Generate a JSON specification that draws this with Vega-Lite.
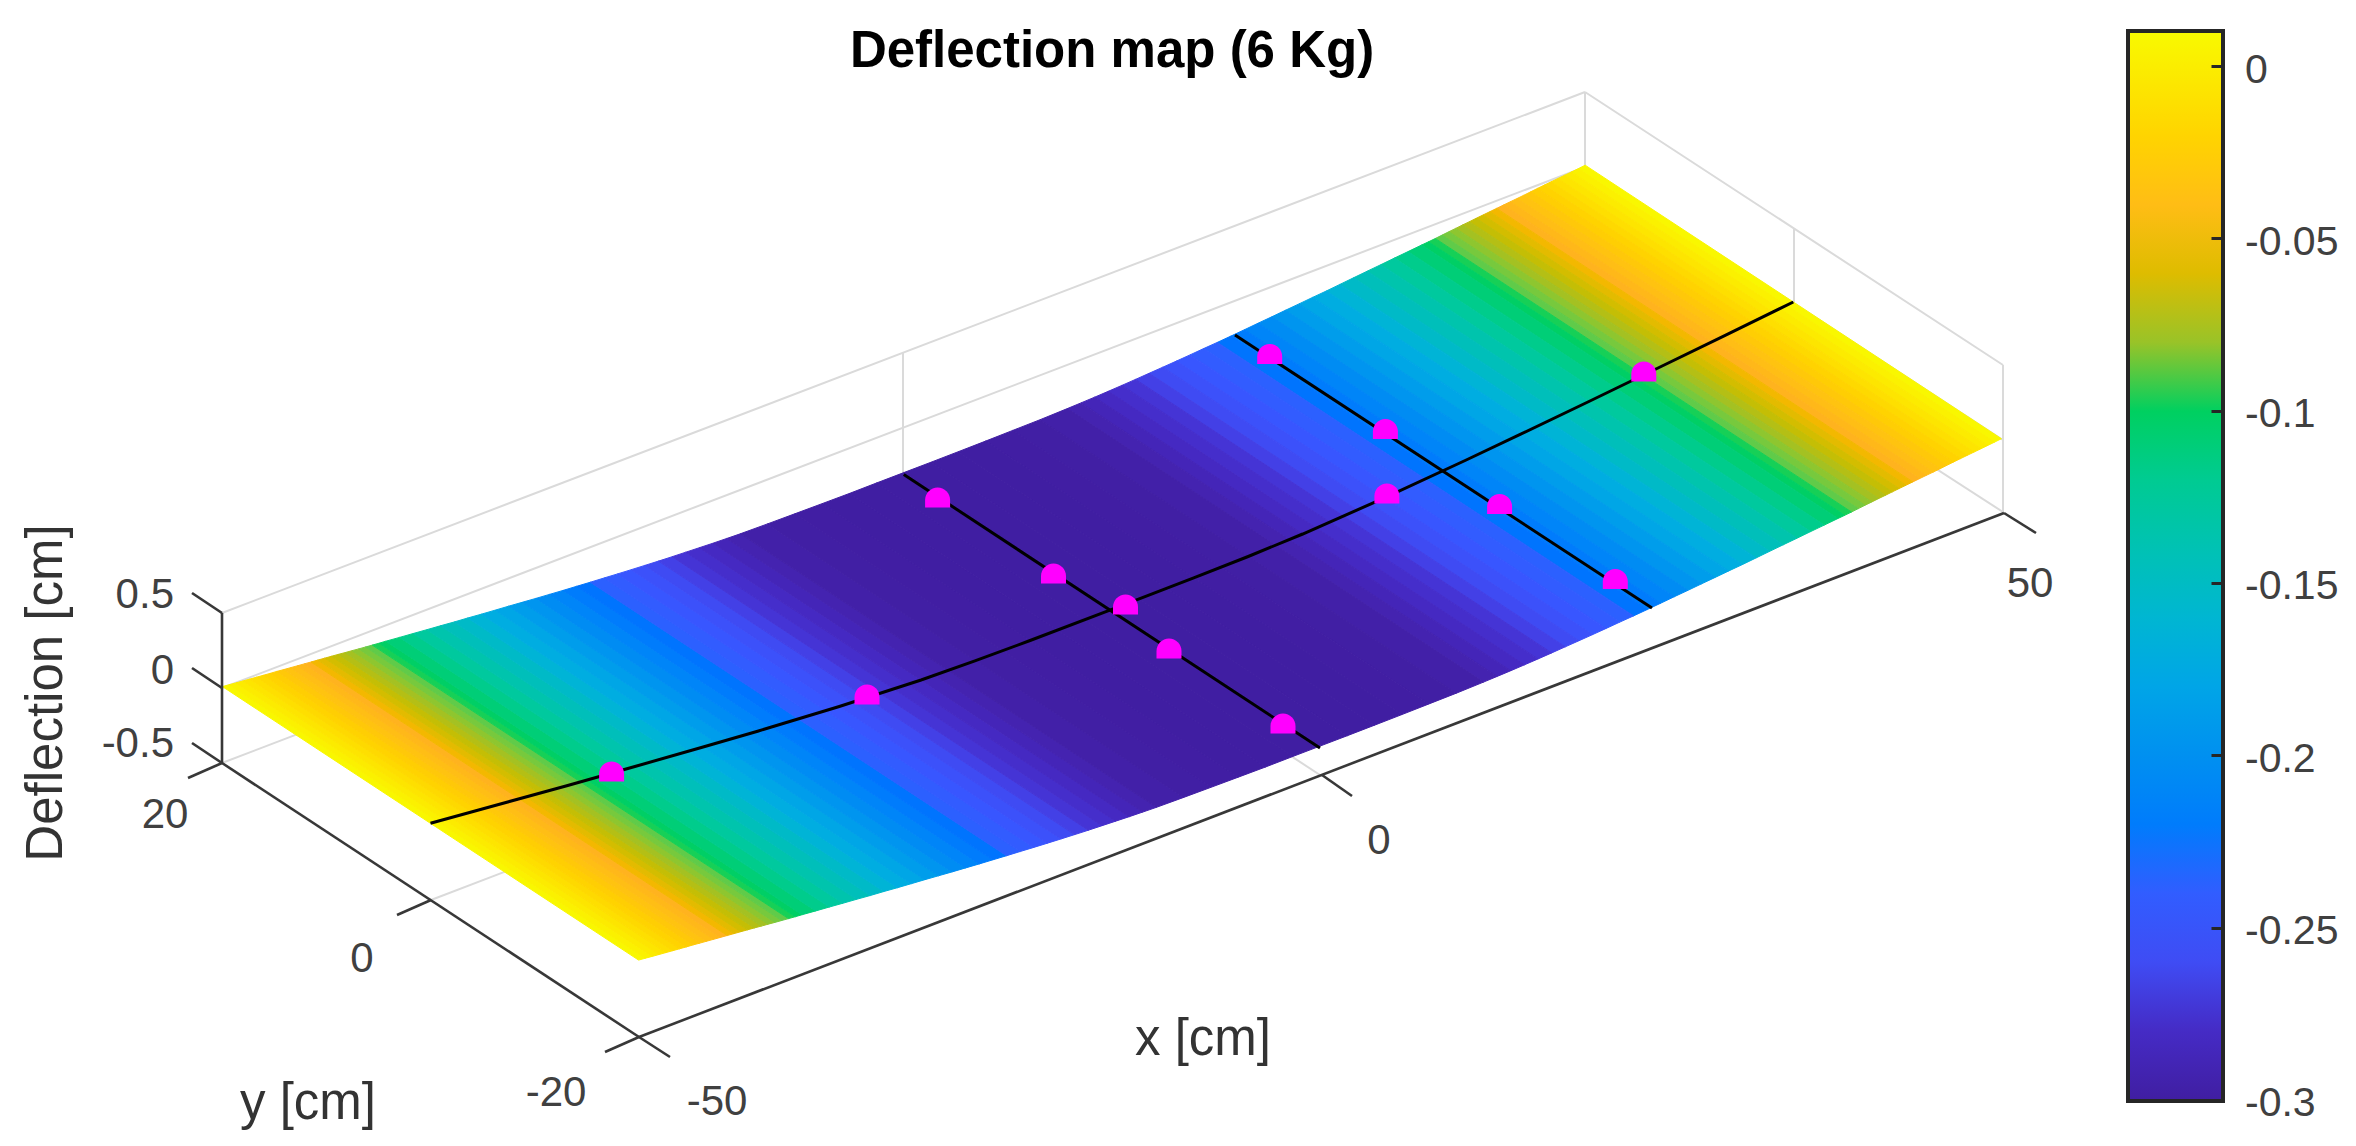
{"$schema":"https://vega.github.io/schema/vega-lite/v6.json","width":2356,"height":1146,"padding":0,"autosize":"none","background":"white",
"title":{"text":"Deflection map (6 Kg)","font":"Liberation Sans","fontSize":51,"fontWeight":"bold","color":"#000000","anchor":"middle","frame":"group","dx":-66,"dy":82},
"resolve":{"scale":{"y":"independent"}},
"layer":[
{"data":{"values":[
{"sx":222,"sy":763,"sx2":1585,"sy2":242},{"sx":431,"sy":900,"sx2":1794,"sy2":379},{"sx":903,"sy":502,"sx2":1320,"sy2":775},{"sx":1585,"sy":242,"sx2":2003,"sy2":512},
{"sx":222,"sy":688,"sx2":1585,"sy2":167},{"sx":222,"sy":613,"sx2":1585,"sy2":92},{"sx":1585,"sy":92,"sx2":2003,"sy2":365},{"sx":1585,"sy":167,"sx2":2003,"sy2":440},
{"sx":903,"sy":352,"sx2":903,"sy2":502},{"sx":1585,"sy":92,"sx2":1585,"sy2":242},{"sx":1794,"sy":228,"sx2":1794,"sy2":378},{"sx":2003,"sy":365,"sx2":2003,"sy2":512}]},
"mark":{"type":"rule","color":"#DADADA","strokeWidth":2},
"encoding":{"x":{"field":"sx","type":"quantitative","scale":{"domain":[0,2356],"range":[0,2356]},"axis":null},"y":{"field":"sy","type":"quantitative","scale":{"domain":[0,1146],"range":[0,1146]},"axis":null},"x2":{"field":"sx2"},"y2":{"field":"sy2"}}},
{"data":{"values":{"type":"FeatureCollection","features":[
{"type":"Feature","properties":{"z":0.008},"geometry":{"type":"Polygon","coordinates":[[[222.4,686.6],[229.2,684.7],[645.4,958.2],[638.6,960.1],[222.4,686.6]]]}},
{"type":"Feature","properties":{"z":0.0033},"geometry":{"type":"Polygon","coordinates":[[[229.2,684.7],[236.0,682.9],[652.2,956.4],[645.4,958.2],[229.2,684.7]]]}},
{"type":"Feature","properties":{"z":-0.0015},"geometry":{"type":"Polygon","coordinates":[[[236.0,682.9],[242.8,681.0],[659.0,954.5],[652.2,956.4],[236.0,682.9]]]}},
{"type":"Feature","properties":{"z":-0.0062},"geometry":{"type":"Polygon","coordinates":[[[242.8,681.0],[249.7,679.1],[665.9,952.6],[659.0,954.5],[242.8,681.0]]]}},
{"type":"Feature","properties":{"z":-0.0109},"geometry":{"type":"Polygon","coordinates":[[[249.7,679.1],[256.5,677.2],[672.7,950.7],[665.9,952.6],[249.7,679.1]]]}},
{"type":"Feature","properties":{"z":-0.0157},"geometry":{"type":"Polygon","coordinates":[[[256.5,677.2],[263.3,675.3],[679.5,948.8],[672.7,950.7],[256.5,677.2]]]}},
{"type":"Feature","properties":{"z":-0.0204},"geometry":{"type":"Polygon","coordinates":[[[263.3,675.3],[270.1,673.4],[686.3,946.9],[679.5,948.8],[263.3,675.3]]]}},
{"type":"Feature","properties":{"z":-0.0252},"geometry":{"type":"Polygon","coordinates":[[[270.1,673.4],[276.9,671.4],[693.1,944.9],[686.3,946.9],[270.1,673.4]]]}},
{"type":"Feature","properties":{"z":-0.0299},"geometry":{"type":"Polygon","coordinates":[[[276.9,671.4],[283.7,669.6],[699.9,943.1],[693.1,944.9],[276.9,671.4]]]}},
{"type":"Feature","properties":{"z":-0.0347},"geometry":{"type":"Polygon","coordinates":[[[283.7,669.6],[290.5,667.7],[706.7,941.2],[699.9,943.1],[283.7,669.6]]]}},
{"type":"Feature","properties":{"z":-0.0394},"geometry":{"type":"Polygon","coordinates":[[[290.5,667.7],[297.4,665.8],[713.6,939.3],[706.7,941.2],[290.5,667.7]]]}},
{"type":"Feature","properties":{"z":-0.0442},"geometry":{"type":"Polygon","coordinates":[[[297.4,665.8],[304.2,663.9],[720.4,937.4],[713.6,939.3],[297.4,665.8]]]}},
{"type":"Feature","properties":{"z":-0.0489},"geometry":{"type":"Polygon","coordinates":[[[304.2,663.9],[311.0,662.0],[727.2,935.5],[720.4,937.4],[304.2,663.9]]]}},
{"type":"Feature","properties":{"z":-0.0537},"geometry":{"type":"Polygon","coordinates":[[[311.0,662.0],[317.8,660.1],[734.0,933.6],[727.2,935.5],[311.0,662.0]]]}},
{"type":"Feature","properties":{"z":-0.0584},"geometry":{"type":"Polygon","coordinates":[[[317.8,660.1],[324.6,658.2],[740.8,931.7],[734.0,933.6],[317.8,660.1]]]}},
{"type":"Feature","properties":{"z":-0.0632},"geometry":{"type":"Polygon","coordinates":[[[324.6,658.2],[331.4,656.3],[747.6,929.8],[740.8,931.7],[324.6,658.2]]]}},
{"type":"Feature","properties":{"z":-0.0679},"geometry":{"type":"Polygon","coordinates":[[[331.4,656.3],[338.2,654.4],[754.4,927.9],[747.6,929.8],[331.4,656.3]]]}},
{"type":"Feature","properties":{"z":-0.0727},"geometry":{"type":"Polygon","coordinates":[[[338.2,654.4],[345.1,652.6],[761.3,926.1],[754.4,927.9],[338.2,654.4]]]}},
{"type":"Feature","properties":{"z":-0.0775},"geometry":{"type":"Polygon","coordinates":[[[345.1,652.6],[351.9,650.7],[768.1,924.2],[761.3,926.1],[345.1,652.6]]]}},
{"type":"Feature","properties":{"z":-0.0825},"geometry":{"type":"Polygon","coordinates":[[[351.9,650.7],[358.7,648.9],[774.9,922.4],[768.1,924.2],[351.9,650.7]]]}},
{"type":"Feature","properties":{"z":-0.0875},"geometry":{"type":"Polygon","coordinates":[[[358.7,648.9],[365.5,647.0],[781.7,920.5],[774.9,922.4],[358.7,648.9]]]}},
{"type":"Feature","properties":{"z":-0.0925},"geometry":{"type":"Polygon","coordinates":[[[365.5,647.0],[372.3,645.1],[788.5,918.6],[781.7,920.5],[365.5,647.0]]]}},
{"type":"Feature","properties":{"z":-0.0973},"geometry":{"type":"Polygon","coordinates":[[[372.3,645.1],[379.1,643.2],[795.3,916.7],[788.5,918.6],[372.3,645.1]]]}},
{"type":"Feature","properties":{"z":-0.1018},"geometry":{"type":"Polygon","coordinates":[[[379.1,643.2],[385.9,641.2],[802.1,914.7],[795.3,916.7],[379.1,643.2]]]}},
{"type":"Feature","properties":{"z":-0.1085},"geometry":{"type":"Polygon","coordinates":[[[385.9,641.2],[399.6,637.4],[815.8,910.9],[802.1,914.7],[385.9,641.2]]]}},
{"type":"Feature","properties":{"z":-0.1175},"geometry":{"type":"Polygon","coordinates":[[[399.6,637.4],[413.2,633.5],[829.4,907.0],[815.8,910.9],[399.6,637.4]]]}},
{"type":"Feature","properties":{"z":-0.1265},"geometry":{"type":"Polygon","coordinates":[[[413.2,633.5],[426.8,629.7],[843.0,903.2],[829.4,907.0],[413.2,633.5]]]}},
{"type":"Feature","properties":{"z":-0.1355},"geometry":{"type":"Polygon","coordinates":[[[426.8,629.7],[440.4,625.8],[856.6,899.3],[843.0,903.2],[426.8,629.7]]]}},
{"type":"Feature","properties":{"z":-0.1445},"geometry":{"type":"Polygon","coordinates":[[[440.4,625.8],[454.1,622.0],[870.3,895.5],[856.6,899.3],[440.4,625.8]]]}},
{"type":"Feature","properties":{"z":-0.1535},"geometry":{"type":"Polygon","coordinates":[[[454.1,622.0],[467.7,618.0],[883.9,891.5],[870.3,895.5],[454.1,622.0]]]}},
{"type":"Feature","properties":{"z":-0.1625},"geometry":{"type":"Polygon","coordinates":[[[467.7,618.0],[481.3,614.2],[897.5,887.7],[883.9,891.5],[467.7,618.0]]]}},
{"type":"Feature","properties":{"z":-0.171},"geometry":{"type":"Polygon","coordinates":[[[481.3,614.2],[495.0,610.2],[911.2,883.7],[897.5,887.7],[481.3,614.2]]]}},
{"type":"Feature","properties":{"z":-0.1793},"geometry":{"type":"Polygon","coordinates":[[[495.0,610.2],[508.6,606.2],[924.8,879.7],[911.2,883.7],[495.0,610.2]]]}},
{"type":"Feature","properties":{"z":-0.1878},"geometry":{"type":"Polygon","coordinates":[[[508.6,606.2],[522.2,602.3],[938.4,875.8],[924.8,879.7],[508.6,606.2]]]}},
{"type":"Feature","properties":{"z":-0.196},"geometry":{"type":"Polygon","coordinates":[[[522.2,602.3],[535.9,598.4],[952.1,871.9],[938.4,875.8],[522.2,602.3]]]}},
{"type":"Feature","properties":{"z":-0.204},"geometry":{"type":"Polygon","coordinates":[[[535.9,598.4],[549.5,594.4],[965.7,867.9],[952.1,871.9],[535.9,598.4]]]}},
{"type":"Feature","properties":{"z":-0.212},"geometry":{"type":"Polygon","coordinates":[[[549.5,594.4],[563.1,590.4],[979.3,863.9],[965.7,867.9],[549.5,594.4]]]}},
{"type":"Feature","properties":{"z":-0.22},"geometry":{"type":"Polygon","coordinates":[[[563.1,590.4],[576.7,586.3],[992.9,859.8],[979.3,863.9],[563.1,590.4]]]}},
{"type":"Feature","properties":{"z":-0.2275},"geometry":{"type":"Polygon","coordinates":[[[576.7,586.3],[590.4,582.2],[1006.6,855.7],[992.9,859.8],[576.7,586.3]]]}},
{"type":"Feature","properties":{"z":-0.2345},"geometry":{"type":"Polygon","coordinates":[[[590.4,582.2],[604.0,578.0],[1020.2,851.5],[1006.6,855.7],[590.4,582.2]]]}},
{"type":"Feature","properties":{"z":-0.2415},"geometry":{"type":"Polygon","coordinates":[[[604.0,578.0],[617.6,573.9],[1033.8,847.4],[1020.2,851.5],[604.0,578.0]]]}},
{"type":"Feature","properties":{"z":-0.2485},"geometry":{"type":"Polygon","coordinates":[[[617.6,573.9],[631.2,569.7],[1047.4,843.2],[1033.8,847.4],[617.6,573.9]]]}},
{"type":"Feature","properties":{"z":-0.255},"geometry":{"type":"Polygon","coordinates":[[[631.2,569.7],[644.9,565.4],[1061.1,838.9],[1047.4,843.2],[631.2,569.7]]]}},
{"type":"Feature","properties":{"z":-0.261},"geometry":{"type":"Polygon","coordinates":[[[644.9,565.4],[658.5,561.1],[1074.7,834.6],[1061.1,838.9],[644.9,565.4]]]}},
{"type":"Feature","properties":{"z":-0.2668},"geometry":{"type":"Polygon","coordinates":[[[658.5,561.1],[672.2,556.7],[1088.4,830.2],[1074.7,834.6],[658.5,561.1]]]}},
{"type":"Feature","properties":{"z":-0.2723},"geometry":{"type":"Polygon","coordinates":[[[672.2,556.7],[685.8,552.2],[1102.0,825.7],[1088.4,830.2],[672.2,556.7]]]}},
{"type":"Feature","properties":{"z":-0.2773},"geometry":{"type":"Polygon","coordinates":[[[685.8,552.2],[699.4,547.7],[1115.6,821.2],[1102.0,825.7],[685.8,552.2]]]}},
{"type":"Feature","properties":{"z":-0.2818},"geometry":{"type":"Polygon","coordinates":[[[699.4,547.7],[713.0,543.2],[1129.2,816.7],[1115.6,821.2],[699.4,547.7]]]}},
{"type":"Feature","properties":{"z":-0.2858},"geometry":{"type":"Polygon","coordinates":[[[713.0,543.2],[726.7,538.5],[1142.9,812.0],[1129.2,816.7],[713.0,543.2]]]}},
{"type":"Feature","properties":{"z":-0.2893},"geometry":{"type":"Polygon","coordinates":[[[726.7,538.5],[740.3,533.8],[1156.5,807.3],[1142.9,812.0],[726.7,538.5]]]}},
{"type":"Feature","properties":{"z":-0.293},"geometry":{"type":"Polygon","coordinates":[[[740.3,533.8],[767.5,523.9],[1183.7,797.4],[1156.5,807.3],[740.3,533.8]]]}},
{"type":"Feature","properties":{"z":-0.296},"geometry":{"type":"Polygon","coordinates":[[[767.5,523.9],[794.8,513.8],[1211.0,787.3],[1183.7,797.4],[767.5,523.9]]]}},
{"type":"Feature","properties":{"z":-0.298},"geometry":{"type":"Polygon","coordinates":[[[794.8,513.8],[822.0,503.7],[1238.2,777.2],[1211.0,787.3],[794.8,513.8]]]}},
{"type":"Feature","properties":{"z":-0.2995},"geometry":{"type":"Polygon","coordinates":[[[822.0,503.7],[849.3,493.5],[1265.5,767.0],[1238.2,777.2],[822.0,503.7]]]}},
{"type":"Feature","properties":{"z":-0.3},"geometry":{"type":"Polygon","coordinates":[[[849.3,493.5],[876.5,483.0],[1292.7,756.5],[1265.5,767.0],[849.3,493.5]]]}},
{"type":"Feature","properties":{"z":-0.3},"geometry":{"type":"Polygon","coordinates":[[[876.5,483.0],[903.8,472.6],[1320.0,746.1],[1292.7,756.5],[876.5,483.0]]]}},
{"type":"Feature","properties":{"z":0.008},"geometry":{"type":"Polygon","coordinates":[[[1585.2,165.2],[1578.4,168.6],[1994.6,442.1],[2001.4,438.7],[1585.2,165.2]]]}},
{"type":"Feature","properties":{"z":0.0033},"geometry":{"type":"Polygon","coordinates":[[[1578.4,168.6],[1571.6,171.9],[1987.8,445.4],[1994.6,442.1],[1578.4,168.6]]]}},
{"type":"Feature","properties":{"z":-0.0015},"geometry":{"type":"Polygon","coordinates":[[[1571.6,171.9],[1564.8,175.2],[1981.0,448.7],[1987.8,445.4],[1571.6,171.9]]]}},
{"type":"Feature","properties":{"z":-0.0062},"geometry":{"type":"Polygon","coordinates":[[[1564.8,175.2],[1557.9,178.5],[1974.1,452.0],[1981.0,448.7],[1564.8,175.2]]]}},
{"type":"Feature","properties":{"z":-0.0109},"geometry":{"type":"Polygon","coordinates":[[[1557.9,178.5],[1551.1,181.8],[1967.3,455.3],[1974.1,452.0],[1557.9,178.5]]]}},
{"type":"Feature","properties":{"z":-0.0157},"geometry":{"type":"Polygon","coordinates":[[[1551.1,181.8],[1544.3,185.1],[1960.5,458.6],[1967.3,455.3],[1551.1,181.8]]]}},
{"type":"Feature","properties":{"z":-0.0204},"geometry":{"type":"Polygon","coordinates":[[[1544.3,185.1],[1537.5,188.4],[1953.7,461.9],[1960.5,458.6],[1544.3,185.1]]]}},
{"type":"Feature","properties":{"z":-0.0252},"geometry":{"type":"Polygon","coordinates":[[[1537.5,188.4],[1530.7,191.8],[1946.9,465.3],[1953.7,461.9],[1537.5,188.4]]]}},
{"type":"Feature","properties":{"z":-0.0299},"geometry":{"type":"Polygon","coordinates":[[[1530.7,191.8],[1523.9,195.2],[1940.1,468.7],[1946.9,465.3],[1530.7,191.8]]]}},
{"type":"Feature","properties":{"z":-0.0347},"geometry":{"type":"Polygon","coordinates":[[[1523.9,195.2],[1517.1,198.5],[1933.3,472.0],[1940.1,468.7],[1523.9,195.2]]]}},
{"type":"Feature","properties":{"z":-0.0394},"geometry":{"type":"Polygon","coordinates":[[[1517.1,198.5],[1510.2,201.8],[1926.4,475.3],[1933.3,472.0],[1517.1,198.5]]]}},
{"type":"Feature","properties":{"z":-0.0442},"geometry":{"type":"Polygon","coordinates":[[[1510.2,201.8],[1503.4,205.1],[1919.6,478.6],[1926.4,475.3],[1510.2,201.8]]]}},
{"type":"Feature","properties":{"z":-0.0489},"geometry":{"type":"Polygon","coordinates":[[[1503.4,205.1],[1496.6,208.4],[1912.8,481.9],[1919.6,478.6],[1503.4,205.1]]]}},
{"type":"Feature","properties":{"z":-0.0537},"geometry":{"type":"Polygon","coordinates":[[[1496.6,208.4],[1489.8,211.7],[1906.0,485.2],[1912.8,481.9],[1496.6,208.4]]]}},
{"type":"Feature","properties":{"z":-0.0584},"geometry":{"type":"Polygon","coordinates":[[[1489.8,211.7],[1483.0,215.0],[1899.2,488.5],[1906.0,485.2],[1489.8,211.7]]]}},
{"type":"Feature","properties":{"z":-0.0632},"geometry":{"type":"Polygon","coordinates":[[[1483.0,215.0],[1476.2,218.3],[1892.4,491.8],[1899.2,488.5],[1483.0,215.0]]]}},
{"type":"Feature","properties":{"z":-0.0679},"geometry":{"type":"Polygon","coordinates":[[[1476.2,218.3],[1469.4,221.7],[1885.6,495.2],[1892.4,491.8],[1476.2,218.3]]]}},
{"type":"Feature","properties":{"z":-0.0727},"geometry":{"type":"Polygon","coordinates":[[[1469.4,221.7],[1462.5,225.0],[1878.7,498.5],[1885.6,495.2],[1469.4,221.7]]]}},
{"type":"Feature","properties":{"z":-0.0775},"geometry":{"type":"Polygon","coordinates":[[[1462.5,225.0],[1455.7,228.4],[1871.9,501.9],[1878.7,498.5],[1462.5,225.0]]]}},
{"type":"Feature","properties":{"z":-0.0825},"geometry":{"type":"Polygon","coordinates":[[[1455.7,228.4],[1448.9,231.7],[1865.1,505.2],[1871.9,501.9],[1455.7,228.4]]]}},
{"type":"Feature","properties":{"z":-0.0875},"geometry":{"type":"Polygon","coordinates":[[[1448.9,231.7],[1442.1,235.1],[1858.3,508.6],[1865.1,505.2],[1448.9,231.7]]]}},
{"type":"Feature","properties":{"z":-0.0925},"geometry":{"type":"Polygon","coordinates":[[[1442.1,235.1],[1435.3,238.5],[1851.5,512.0],[1858.3,508.6],[1442.1,235.1]]]}},
{"type":"Feature","properties":{"z":-0.0973},"geometry":{"type":"Polygon","coordinates":[[[1435.3,238.5],[1428.5,241.8],[1844.7,515.3],[1851.5,512.0],[1435.3,238.5]]]}},
{"type":"Feature","properties":{"z":-0.1018},"geometry":{"type":"Polygon","coordinates":[[[1428.5,241.8],[1421.7,245.0],[1837.9,518.5],[1844.7,515.3],[1428.5,241.8]]]}},
{"type":"Feature","properties":{"z":-0.1085},"geometry":{"type":"Polygon","coordinates":[[[1421.7,245.0],[1408.0,251.6],[1824.2,525.1],[1837.9,518.5],[1421.7,245.0]]]}},
{"type":"Feature","properties":{"z":-0.1175},"geometry":{"type":"Polygon","coordinates":[[[1408.0,251.6],[1394.4,258.1],[1810.6,531.6],[1824.2,525.1],[1408.0,251.6]]]}},
{"type":"Feature","properties":{"z":-0.1265},"geometry":{"type":"Polygon","coordinates":[[[1394.4,258.1],[1380.8,264.7],[1797.0,538.2],[1810.6,531.6],[1394.4,258.1]]]}},
{"type":"Feature","properties":{"z":-0.1355},"geometry":{"type":"Polygon","coordinates":[[[1380.8,264.7],[1367.2,271.2],[1783.4,544.7],[1797.0,538.2],[1380.8,264.7]]]}},
{"type":"Feature","properties":{"z":-0.1445},"geometry":{"type":"Polygon","coordinates":[[[1367.2,271.2],[1353.5,277.8],[1769.7,551.3],[1783.4,544.7],[1367.2,271.2]]]}},
{"type":"Feature","properties":{"z":-0.1535},"geometry":{"type":"Polygon","coordinates":[[[1353.5,277.8],[1339.9,284.4],[1756.1,557.9],[1769.7,551.3],[1353.5,277.8]]]}},
{"type":"Feature","properties":{"z":-0.1625},"geometry":{"type":"Polygon","coordinates":[[[1339.9,284.4],[1326.3,291.0],[1742.5,564.5],[1756.1,557.9],[1339.9,284.4]]]}},
{"type":"Feature","properties":{"z":-0.171},"geometry":{"type":"Polygon","coordinates":[[[1326.3,291.0],[1312.6,297.4],[1728.8,570.9],[1742.5,564.5],[1326.3,291.0]]]}},
{"type":"Feature","properties":{"z":-0.1793},"geometry":{"type":"Polygon","coordinates":[[[1312.6,297.4],[1299.0,303.9],[1715.2,577.4],[1728.8,570.9],[1312.6,297.4]]]}},
{"type":"Feature","properties":{"z":-0.1878},"geometry":{"type":"Polygon","coordinates":[[[1299.0,303.9],[1285.4,310.3],[1701.6,583.8],[1715.2,577.4],[1299.0,303.9]]]}},
{"type":"Feature","properties":{"z":-0.196},"geometry":{"type":"Polygon","coordinates":[[[1285.4,310.3],[1271.8,316.8],[1688.0,590.3],[1701.6,583.8],[1285.4,310.3]]]}},
{"type":"Feature","properties":{"z":-0.204},"geometry":{"type":"Polygon","coordinates":[[[1271.8,316.8],[1258.1,323.2],[1674.3,596.7],[1688.0,590.3],[1271.8,316.8]]]}},
{"type":"Feature","properties":{"z":-0.212},"geometry":{"type":"Polygon","coordinates":[[[1258.1,323.2],[1244.5,329.7],[1660.7,603.2],[1674.3,596.7],[1258.1,323.2]]]}},
{"type":"Feature","properties":{"z":-0.22},"geometry":{"type":"Polygon","coordinates":[[[1244.5,329.7],[1230.9,336.1],[1647.1,609.6],[1660.7,603.2],[1244.5,329.7]]]}},
{"type":"Feature","properties":{"z":-0.2275},"geometry":{"type":"Polygon","coordinates":[[[1230.9,336.1],[1217.3,342.4],[1633.5,615.9],[1647.1,609.6],[1230.9,336.1]]]}},
{"type":"Feature","properties":{"z":-0.2345},"geometry":{"type":"Polygon","coordinates":[[[1217.3,342.4],[1203.6,348.6],[1619.8,622.1],[1633.5,615.9],[1217.3,342.4]]]}},
{"type":"Feature","properties":{"z":-0.2415},"geometry":{"type":"Polygon","coordinates":[[[1203.6,348.6],[1190.0,354.9],[1606.2,628.4],[1619.8,622.1],[1203.6,348.6]]]}},
{"type":"Feature","properties":{"z":-0.2485},"geometry":{"type":"Polygon","coordinates":[[[1190.0,354.9],[1176.4,361.1],[1592.6,634.6],[1606.2,628.4],[1190.0,354.9]]]}},
{"type":"Feature","properties":{"z":-0.255},"geometry":{"type":"Polygon","coordinates":[[[1176.4,361.1],[1162.8,367.2],[1579.0,640.7],[1592.6,634.6],[1176.4,361.1]]]}},
{"type":"Feature","properties":{"z":-0.261},"geometry":{"type":"Polygon","coordinates":[[[1162.8,367.2],[1149.1,373.3],[1565.3,646.8],[1579.0,640.7],[1162.8,367.2]]]}},
{"type":"Feature","properties":{"z":-0.2668},"geometry":{"type":"Polygon","coordinates":[[[1149.1,373.3],[1135.5,379.4],[1551.7,652.9],[1565.3,646.8],[1149.1,373.3]]]}},
{"type":"Feature","properties":{"z":-0.2723},"geometry":{"type":"Polygon","coordinates":[[[1135.5,379.4],[1121.9,385.4],[1538.1,658.9],[1551.7,652.9],[1135.5,379.4]]]}},
{"type":"Feature","properties":{"z":-0.2773},"geometry":{"type":"Polygon","coordinates":[[[1121.9,385.4],[1108.3,391.3],[1524.5,664.8],[1538.1,658.9],[1121.9,385.4]]]}},
{"type":"Feature","properties":{"z":-0.2818},"geometry":{"type":"Polygon","coordinates":[[[1108.3,391.3],[1094.6,397.2],[1510.8,670.7],[1524.5,664.8],[1108.3,391.3]]]}},
{"type":"Feature","properties":{"z":-0.2858},"geometry":{"type":"Polygon","coordinates":[[[1094.6,397.2],[1081.0,402.9],[1497.2,676.4],[1510.8,670.7],[1094.6,397.2]]]}},
{"type":"Feature","properties":{"z":-0.2893},"geometry":{"type":"Polygon","coordinates":[[[1081.0,402.9],[1067.3,408.6],[1483.5,682.1],[1497.2,676.4],[1081.0,402.9]]]}},
{"type":"Feature","properties":{"z":-0.293},"geometry":{"type":"Polygon","coordinates":[[[1067.3,408.6],[1040.1,419.7],[1456.3,693.2],[1483.5,682.1],[1067.3,408.6]]]}},
{"type":"Feature","properties":{"z":-0.296},"geometry":{"type":"Polygon","coordinates":[[[1040.1,419.7],[1012.8,430.4],[1429.0,703.9],[1456.3,693.2],[1040.1,419.7]]]}},
{"type":"Feature","properties":{"z":-0.298},"geometry":{"type":"Polygon","coordinates":[[[1012.8,430.4],[985.6,441.1],[1401.8,714.6],[1429.0,703.9],[1012.8,430.4]]]}},
{"type":"Feature","properties":{"z":-0.2995},"geometry":{"type":"Polygon","coordinates":[[[985.6,441.1],[958.3,451.7],[1374.5,725.2],[1401.8,714.6],[985.6,441.1]]]}},
{"type":"Feature","properties":{"z":-0.3},"geometry":{"type":"Polygon","coordinates":[[[958.3,451.7],[931.1,462.2],[1347.3,735.7],[1374.5,725.2],[958.3,451.7]]]}},
{"type":"Feature","properties":{"z":-0.3},"geometry":{"type":"Polygon","coordinates":[[[931.1,462.2],[903.8,472.6],[1320.0,746.1],[1347.3,735.7],[931.1,462.2]]]}}
]},"format":{"type":"json","property":"features"}},
"projection":{"type":"identity","scale":1,"translate":[0,0]},
"mark":{"type":"geoshape","strokeWidth":1},
"encoding":{
"color":{"field":"properties.z","type":"quantitative","scale":{"domain":[-0.3003,-0.2942,-0.2826,-0.271,-0.2637,-0.2504,-0.232,-0.2305,-0.2,-0.17,-0.15,-0.128,-0.0975,-0.0955,-0.0853,-0.0766,-0.0665,-0.053,-0.052,-0.023,0.0104],"range":["#401EA2","#421FA5","#4528C0","#4535D8","#4048F0","#3A55FF","#2A62FF","#0070FF","#0090F0","#00AEE0","#00BCC0","#00C8A0","#00D058","#50CC50","#80C838","#A8C020","#C8BE00","#F5B800","#FFB020","#FFD000","#F8FA00"]},
"legend":{"type":"gradient","orient":"none","legendX":2128,"legendY":31,"direction":"vertical","title":null,"gradientLength":1070,"gradientThickness":95,"gradientStrokeColor":"#262626","gradientStrokeWidth":4,"tickCount":7,"labelExpr":"'' + datum.value","labelFont":"Liberation Sans","labelFontSize":41,"labelColor":"#404040","labelOffset":22,"labelOverlap":false,"labelSeparation":0,"encode":{"labels":{"update":{"dy":{"value":4}}}}}},
"stroke":{"field":"properties.z","type":"quantitative","scale":{"domain":[-0.3004,-0.2942,-0.2826,-0.271,-0.2637,-0.2504,-0.232,-0.2305,-0.2,-0.17,-0.15,-0.128,-0.0975,-0.0955,-0.0853,-0.0766,-0.0665,-0.053,-0.052,-0.023,0.0105],"range":["#401EA2","#421FA5","#4528C0","#4535D8","#4048F0","#3A55FF","#2A62FF","#0070FF","#0090F0","#00AEE0","#00BCC0","#00C8A0","#00D058","#50CC50","#80C838","#A8C020","#C8BE00","#F5B800","#FFB020","#FFD000","#F8FA00"]},"legend":null}}},
{"data":{"values":[
{"sx":222,"sy":613,"sx2":222,"sy2":763},{"sx":222,"sy":763,"sx2":639,"sy2":1037},{"sx":639,"sy":1037,"sx2":2004,"sy2":513},
{"sx":222,"sy":613,"sx2":192,"sy2":593},{"sx":222,"sy":688,"sx2":192,"sy2":668},{"sx":222,"sy":763,"sx2":192,"sy2":743},
{"sx":222,"sy":763,"sx2":188,"sy2":778},{"sx":431,"sy":900,"sx2":397,"sy2":915},{"sx":639,"sy":1037,"sx2":605,"sy2":1052},
{"sx":639,"sy":1037,"sx2":670,"sy2":1057},{"sx":1322,"sy":775,"sx2":1352,"sy2":796},{"sx":2004,"sy":513,"sx2":2036,"sy2":533}]},
"mark":{"type":"rule","color":"#383838","strokeWidth":2.6},
"encoding":{"x":{"field":"sx","type":"quantitative","scale":{"domain":[0,2356],"range":[0,2356]},"axis":null},"y":{"field":"sy","type":"quantitative","scale":{"domain":[0,1146],"range":[0,1146]},"axis":null},"x2":{"field":"sx2"},"y2":{"field":"sy2"}}},
{"data":{"values":[
{"c":"a","o":1,"sx":430.5,"sy":823.3},{"c":"a","o":2,"sx":498.6,"sy":804.5},{"c":"a","o":3,"sx":566.8,"sy":785.7},{"c":"a","o":4,"sx":634.9,"sy":766.5},{"c":"a","o":5,"sx":703.1,"sy":747.0},{"c":"a","o":6,"sx":757.6,"sy":731.2},{"c":"a","o":7,"sx":839.3,"sy":706.5},{"c":"a","o":8,"sx":921.1,"sy":680.0},{"c":"a","o":9,"sx":975.6,"sy":660.7},{"c":"a","o":10,"sx":1030.1,"sy":640.5},{"c":"a","o":11,"sx":1111.9,"sy":609.4},{"c":"a","o":12,"sx":1193.7,"sy":577.9},{"c":"a","o":13,"sx":1248.2,"sy":556.5},{"c":"a","o":14,"sx":1302.7,"sy":534.0},{"c":"a","o":15,"sx":1384.5,"sy":497.9},{"c":"a","o":16,"sx":1466.2,"sy":460.0},{"c":"a","o":17,"sx":1520.7,"sy":434.2},{"c":"a","o":18,"sx":1588.9,"sy":401.5},{"c":"a","o":19,"sx":1657.0,"sy":368.5},{"c":"a","o":20,"sx":1725.2,"sy":335.3},{"c":"a","o":21,"sx":1793.3,"sy":302.0},
{"c":"b","o":1,"sx":903.8,"sy":474.6},{"c":"b","o":2,"sx":1320.0,"sy":748.1},
{"c":"d","o":1,"sx":1235,"sy":335},{"c":"d","o":2,"sx":1652,"sy":608}]},
"mark":{"type":"line","color":"#000000","strokeWidth":3},
"encoding":{"x":{"field":"sx","type":"quantitative","scale":{"domain":[0,2356],"range":[0,2356]},"axis":null},"y":{"field":"sy","type":"quantitative","scale":{"domain":[0,1146],"range":[0,1146]},"axis":null},"detail":{"field":"c"},"order":{"field":"o"}}},
{"data":{"values":[
{"sx":937.6,"sy":500},{"sx":1053.5,"sy":576},{"sx":1169,"sy":651},{"sx":1283,"sy":726},{"sx":1269.7,"sy":356.5},{"sx":1385.4,"sy":431.5},{"sx":1499.6,"sy":506.5},{"sx":1615.3,"sy":581.5},{"sx":611.6,"sy":774},{"sx":867,"sy":697},{"sx":1125.5,"sy":607},{"sx":1386.9,"sy":496},{"sx":1643.8,"sy":374}]},
"mark":{"type":"point","filled":true,"opacity":1,"color":"#FF00FF","shape":"M-1,0.6 L-1,0 A1,1 0 0 1 1,0 L1,0.6 Z","size":625,"strokeWidth":0},
"encoding":{"x":{"field":"sx","type":"quantitative","scale":{"domain":[0,2356],"range":[0,2356]},"axis":null},"y":{"field":"sy","type":"quantitative","scale":{"domain":[0,1146],"range":[0,1146]},"axis":null}}},
{"data":{"values":[
{"t":"0.5","sx":174,"sy":595},{"t":"0","sx":174,"sy":671},{"t":"-0.5","sx":174,"sy":744}]},
"mark":{"type":"text","font":"Liberation Sans","fontSize":42,"color":"#404040","align":"right","baseline":"middle"},
"encoding":{"x":{"field":"sx","type":"quantitative","scale":{"domain":[0,2356],"range":[0,2356]},"axis":null},"y":{"field":"sy","type":"quantitative","scale":{"domain":[0,1146],"range":[0,1146]},"axis":null},"text":{"field":"t"}}},
{"data":{"values":[
{"t":"20","sx":165,"sy":815},{"t":"0","sx":362,"sy":959},{"t":"-20","sx":556,"sy":1093},{"t":"-50","sx":717,"sy":1102},{"t":"0","sx":1379,"sy":841},{"t":"50","sx":2030,"sy":584}]},
"mark":{"type":"text","font":"Liberation Sans","fontSize":42,"color":"#404040","align":"center","baseline":"middle"},
"encoding":{"x":{"field":"sx","type":"quantitative","scale":{"domain":[0,2356],"range":[0,2356]},"axis":null},"y":{"field":"sy","type":"quantitative","scale":{"domain":[0,1146],"range":[0,1146]},"axis":null},"text":{"field":"t"}}},
{"data":{"values":[{"t":"x [cm]","sx":1203,"sy":1040},{"t":"y [cm]","sx":308,"sy":1104}]},
"mark":{"type":"text","font":"Liberation Sans","fontSize":51,"color":"#333333","align":"center","baseline":"middle"},
"encoding":{"x":{"field":"sx","type":"quantitative","scale":{"domain":[0,2356],"range":[0,2356]},"axis":null},"y":{"field":"sy","type":"quantitative","scale":{"domain":[0,1146],"range":[0,1146]},"axis":null},"text":{"field":"t"}}},
{"data":{"values":[{"t":"Deflection [cm]","sx":47,"sy":693}]},
"mark":{"type":"text","font":"Liberation Sans","fontSize":51,"color":"#333333","align":"center","baseline":"middle","angle":270},
"encoding":{"x":{"field":"sx","type":"quantitative","scale":{"domain":[0,2356],"range":[0,2356]},"axis":null},"y":{"field":"sy","type":"quantitative","scale":{"domain":[0,1146],"range":[0,1146]},"axis":null},"text":{"field":"t"}}},
{"data":{"values":[{"v":0,"sx":2211,"sx2":2222},{"v":-0.05,"sx":2211,"sx2":2222},{"v":-0.1,"sx":2211,"sx2":2222},{"v":-0.15,"sx":2211,"sx2":2222},{"v":-0.2,"sx":2211,"sx2":2222},{"v":-0.25,"sx":2211,"sx2":2222}]},
"mark":{"type":"rule","color":"#262626","strokeWidth":3},
"encoding":{"x":{"field":"sx","type":"quantitative","scale":{"domain":[0,2356],"range":[0,2356]},"axis":null},"x2":{"field":"sx2"},"y":{"field":"v","type":"quantitative","scale":{"domain":[-0.3,0.0104],"range":[1100,30]},"axis":{"orient":"left","offset":-2224,"values":[0,-0.05,-0.1,-0.15,-0.2,-0.25],"labels":false,"domain":false,"grid":false,"title":null,"ticks":true,"tickSize":13,"tickWidth":3,"tickColor":"#262626","zindex":1}}}}
],
"config":{"view":{"stroke":null}}}
